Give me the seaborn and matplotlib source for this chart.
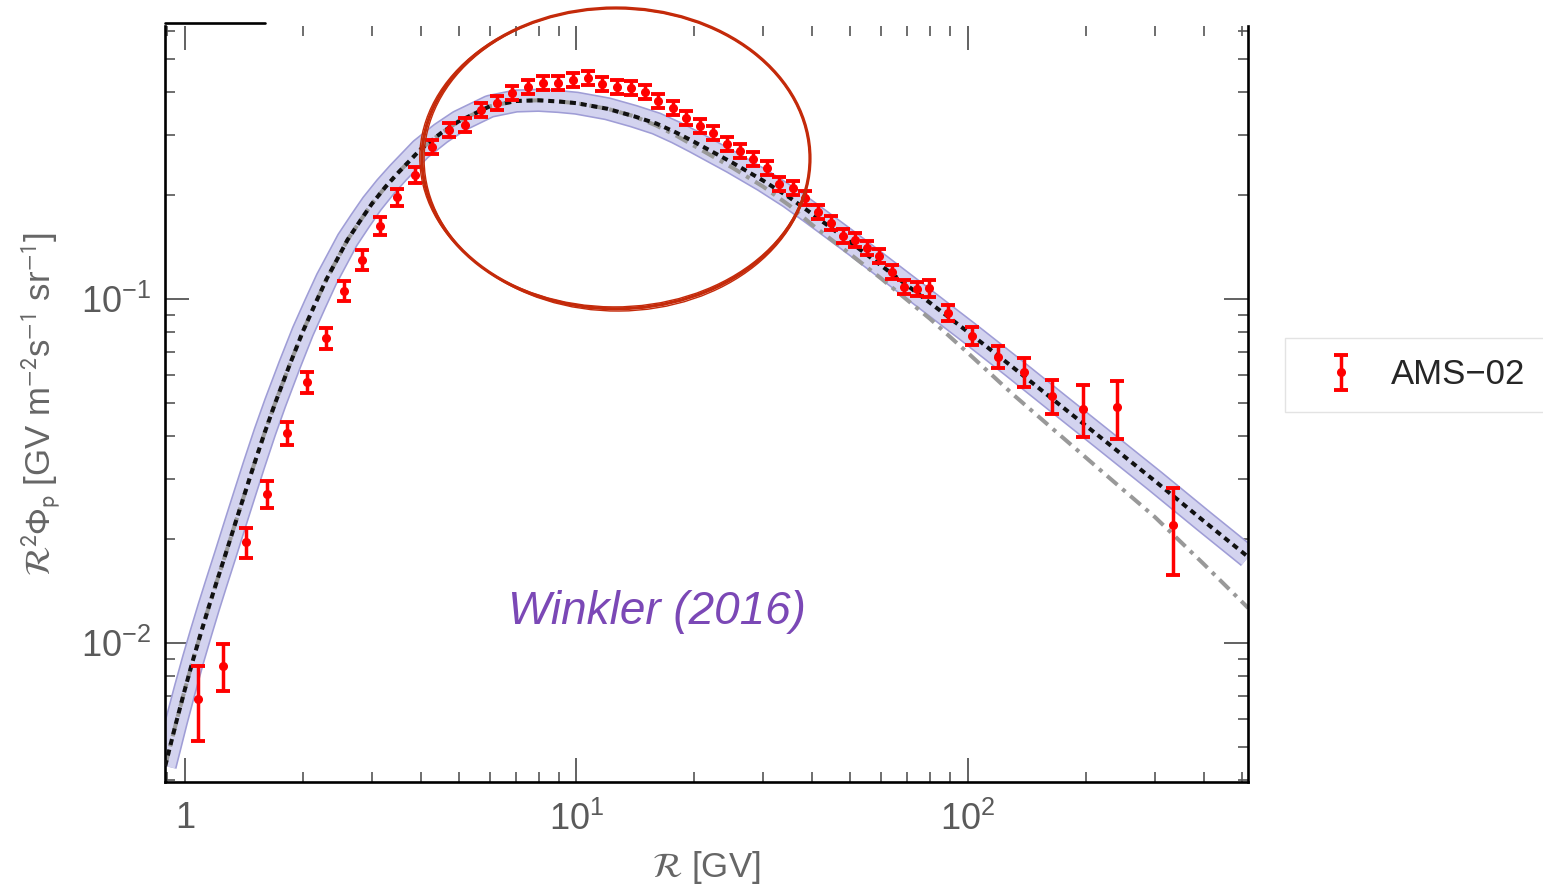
import matplotlib
matplotlib.use("Agg")
import matplotlib.pyplot as plt
import matplotlib.patheffects as pe
from matplotlib.patches import Ellipse
from matplotlib.ticker import FixedLocator, FixedFormatter, LogLocator, NullFormatter
import seaborn as sns

# ---------------- data ----------------
rigidity = [1.080, 1.250, 1.432, 1.620, 1.822, 2.049, 2.292, 2.548, 2.832, 3.148,
            3.479, 3.868, 4.274, 4.725, 5.191, 5.703, 6.265, 6.843, 7.519, 8.211,
            8.970, 9.797, 10.70, 11.62, 12.69, 13.78, 14.96, 16.16, 17.64, 19.05,
            20.68, 22.32, 24.23, 26.16, 28.24, 30.66, 32.91, 35.73, 38.34, 41.40,
            44.68, 47.95, 51.45, 55.21, 59.26, 63.96, 68.64, 74.07, 79.51, 88.9,
            102.4, 119.3, 139.0, 163.9, 196.7, 240.2, 333.9]
flux = [0.00688, 0.00857, 0.01966, 0.02710, 0.04077, 0.05737, 0.07700, 0.1055, 0.1298, 0.1630,
        0.1979, 0.2293, 0.2766, 0.3099, 0.3205, 0.3542, 0.3713, 0.3971, 0.4134, 0.4246,
        0.4246, 0.4332, 0.4390, 0.4217, 0.4134, 0.4106, 0.3998, 0.3762, 0.3591, 0.3358,
        0.3183, 0.3038, 0.2822, 0.2693, 0.2553, 0.2403, 0.2159, 0.2102, 0.1966, 0.1790,
        0.1663, 0.1524, 0.1484, 0.1407, 0.1334, 0.1198, 0.1084, 0.1069, 0.1076, 0.0911,
        0.0781, 0.0678, 0.0614, 0.0522, 0.0479, 0.0485, 0.0220]
flux_err = [0.00169, 0.00133, 0.00198, 0.00240, 0.00315, 0.00405, 0.00540, 0.0070, 0.0087, 0.0099,
            0.0110, 0.0120, 0.0135, 0.0150, 0.0155, 0.0170, 0.0178, 0.0190, 0.0198, 0.0204,
            0.0204, 0.0208, 0.0211, 0.0202, 0.0198, 0.0197, 0.0192, 0.0181, 0.0172, 0.0161,
            0.0153, 0.0146, 0.0135, 0.0129, 0.0123, 0.0115, 0.0104, 0.0101, 0.0094, 0.0086,
            0.0080, 0.0073, 0.0071, 0.0068, 0.0064, 0.0058, 0.0052, 0.0051, 0.0062, 0.0049,
            0.0047, 0.0050, 0.0058, 0.0060, 0.0083, 0.0092, 0.0062]

model_rigidity = [0.89, 0.95, 1.0, 1.05, 1.1, 1.15, 1.2, 1.27, 1.35, 1.42,
                  1.5, 1.6, 1.7, 1.85, 2.0, 2.15, 2.3, 2.45, 2.6, 2.8,
                  3.0, 3.25, 3.5, 4.0, 4.5, 5.0, 6.0, 7.0, 8.0, 9.0,
                  10.0, 12.0, 14.0, 16.0, 18.0, 20.0, 25.0, 30.0, 35.0, 40.0,
                  50.0, 60.0, 80.0, 100.0, 130.0, 170.0, 220.0, 300.0, 400.0, 520.0]
model_best = [0.004390, 0.005890, 0.007348, 0.008985, 0.010763, 0.012725, 0.014839, 0.018146, 0.022630, 0.027100,
              0.032920, 0.041060, 0.049850, 0.064280, 0.080430, 0.096710, 0.1143, 0.1307, 0.1484, 0.1685,
              0.1889, 0.2116, 0.2325, 0.2724, 0.3030, 0.3283, 0.3630, 0.3762, 0.3780, 0.3750,
              0.3708, 0.3571, 0.3399, 0.3235, 0.3043, 0.2860, 0.2491, 0.2207, 0.1972, 0.1767,
              0.1464, 0.1251, 0.09743, 0.08017, 0.06339, 0.04964, 0.03928, 0.02960, 0.02263, 0.01778]
model_alt = [0.004390, 0.005890, 0.007348, 0.008985, 0.010763, 0.012725, 0.014839, 0.018146, 0.022630, 0.027100,
             0.032920, 0.041060, 0.049850, 0.064280, 0.080430, 0.096710, 0.1143, 0.1307, 0.1484, 0.1685,
             0.1889, 0.2116, 0.2325, 0.2724, 0.3030, 0.3283, 0.3630, 0.3762, 0.3780, 0.3750,
             0.3708, 0.3571, 0.3399, 0.3192, 0.2982, 0.2785, 0.2409, 0.2120, 0.1869, 0.1642,
             0.1351, 0.1147, 0.08754, 0.06965, 0.05291, 0.04061, 0.03150, 0.02325, 0.01697, 0.01263]

x_ticks = [1, 10, 100]
x_tick_labels = ["1", "$10^{1}$", "$10^{2}$"]
y_ticks = [0.01, 0.1]
y_tick_labels = ["$10^{-2}$", "$10^{-1}$"]
legend_label = "AMS\u221202"
annotation = "Winkler (2016)"

# ---------------- style ----------------
sns.set_theme(style="ticks")
plt.rcParams["font.family"] = ["Liberation Sans", "DejaVu Sans"]
plt.rcParams["mathtext.fontset"] = "custom"
plt.rcParams["mathtext.rm"] = "Liberation Sans"
plt.rcParams["mathtext.it"] = "Liberation Sans:italic"
plt.rcParams["mathtext.bf"] = "Liberation Sans:bold"

W, H = 1543, 894
fig = plt.figure(figsize=(W / 100, H / 100), dpi=100)
ax_left, ax_right, ax_top, ax_bottom = 165, 1248, 26, 782
ax = fig.add_axes([ax_left / W, 1 - ax_bottom / H, (ax_right - ax_left) / W, (ax_bottom - ax_top) / H])
ax.set_xscale("log")
ax.set_yscale("log")

band_fill = "#d3d3ef"
band_edge = "#9f9dd6"

# uncertainty band (thick stroke along the best-fit model)
sns.lineplot(x=model_rigidity, y=model_best, ax=ax, color=band_fill, lw=14.5,
             solid_capstyle="butt", solid_joinstyle="round", sort=False, estimator=None, zorder=1,
             path_effects=[pe.Stroke(linewidth=16.8, foreground=band_edge), pe.Normal()])
# alternative model (grey dash-dot)
sns.lineplot(x=model_rigidity, y=model_alt, ax=ax, color="#999999", lw=2.9,
             linestyle=(0, (3.4, 1.6, 1.0, 1.6)), sort=False, estimator=None, zorder=2)
# best-fit model (black dotted)
sns.lineplot(x=model_rigidity, y=model_best, ax=ax, color="#111111", lw=2.9,
             linestyle=(0, (1.5, 1.2)), sort=False, estimator=None, zorder=3)

eb = ax.errorbar(rigidity, flux, yerr=flux_err, fmt="o", color="#ff0000", ms=5.5,
                 lw=2.5, capsize=5, capthick=2.8, zorder=5)

ax.set_xlim(0.8891, 519.1)
ax.set_ylim(0.003944, 0.6215)

# ticks
tick_grey = "#5a5a5a"
ax.xaxis.set_major_locator(FixedLocator(x_ticks))
ax.xaxis.set_major_formatter(FixedFormatter(x_tick_labels))
ax.xaxis.set_minor_locator(LogLocator(base=10, subs=range(2, 10), numticks=20))
ax.xaxis.set_minor_formatter(NullFormatter())
ax.yaxis.set_major_locator(FixedLocator(y_ticks))
ax.yaxis.set_major_formatter(FixedFormatter(y_tick_labels))
ax.yaxis.set_minor_locator(LogLocator(base=10, subs=range(2, 10), numticks=20))
ax.yaxis.set_minor_formatter(NullFormatter())
ax.tick_params(which="both", direction="in", top=True, right=True, color="#555555",
               labelcolor=tick_grey, labelsize=26)
ax.tick_params(which="major", length=17, width=1.3)
ax.tick_params(which="minor", length=7, width=1.2)
ax.tick_params(axis="x", which="major", pad=14)
ax.tick_params(axis="y", which="major", pad=10)
for lab in ax.get_xticklabels():
    lab.set_family(["Liberation Sans Narrow", "Liberation Sans"])

for side in ["left", "bottom", "right"]:
    ax.spines[side].set_color("black")
    ax.spines[side].set_linewidth(1.9)
ax.spines["top"].set_visible(False)
ax.plot([0, 0.0923], [1.004, 1.004], transform=ax.transAxes, color="black", lw=1.9,
        clip_on=False, zorder=6)

ax.set_xlabel(r"$\mathcal{R}$ [GV]", fontsize=25, color="#666666", labelpad=8,
              math_fontfamily="stixsans")
ax.set_ylabel(r"$\mathcal{R}^2\Phi_{\mathrm{p}}$ [GV m$^{-2}$s$^{-1}$ sr$^{-1}$]", fontsize=25,
              color="#666666", labelpad=14, math_fontfamily="stixsans")

ax.text(0.4543, 0.2255, annotation, transform=ax.transAxes, ha="center", va="center",
        fontsize=33, style="italic", color="#7b48b6", zorder=6)

# hand-drawn red ellipse highlight
ell_color = "#c42a0a"
for dx, dy, dw, dh, ang, lw in [(0, 0, 0, 0, 0, 2.3), (0.001, -0.0015, -0.002, 0.003, 0.6, 1.0),
                                (-0.001, 0.001, 0.002, -0.003, -0.5, 1.0)]:
    e = Ellipse((0.4164 + dx, 0.8249 + dy), 0.3583 + dw, 0.3979 + dh, angle=ang,
                transform=ax.transAxes, fill=False, edgecolor=ell_color, lw=lw,
                clip_on=False, zorder=7)
    ax.add_patch(e)

leg = fig.legend([eb], [legend_label], loc="center left",
                 bbox_to_anchor=(1285 / W, 1 - 375 / H), frameon=True, fancybox=False,
                 fontsize=25, handlelength=2.0, handletextpad=0.45, borderpad=0.6,
                 borderaxespad=0)
leg.get_frame().set_edgecolor("#dddddd")
leg.get_frame().set_linewidth(1.0)

fig.savefig("out.png", dpi=100)
